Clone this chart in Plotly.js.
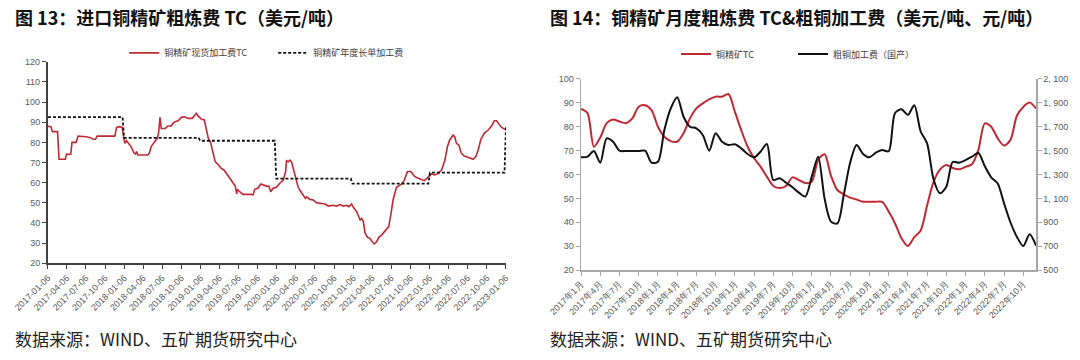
<!DOCTYPE html>
<html>
<head>
<meta charset="utf-8">
<script src="https://cdn.plot.ly/plotly-3.0.1.min.js"></script>
<style>
html,body{margin:0;padding:0;background:#fff;}
#chart{width:1080px;height:360px;}
</style>
</head>
<body>
<div id="chart"></div>
<script>
// ---------- Left chart: 进口铜精矿粗炼费 TC ----------
const spotDates = [
"2017-01-06","2017-01-20","2017-01-27","2017-02-21","2017-02-28","2017-03-30","2017-04-05","2017-04-25","2017-05-01","2017-05-21",
"2017-05-30","2017-06-27","2017-07-08","2017-07-29","2017-08-09","2017-08-21","2017-08-30","2017-11-22","2017-11-30","2017-12-16",
"2017-12-27","2018-01-04","2018-01-09","2018-01-17","2018-01-28","2018-02-07","2018-02-23","2018-03-01","2018-03-06","2018-03-12",
"2018-03-28","2018-04-29","2018-05-07","2018-05-15","2018-05-31","2018-06-13","2018-06-19","2018-06-26","2018-07-02","2018-07-21",
"2018-08-03","2018-08-19","2018-08-27","2018-09-08","2018-09-21","2018-10-06","2018-10-22","2018-11-08","2018-11-27","2018-12-06",
"2018-12-17","2018-12-25","2019-01-11","2019-01-24","2019-02-03","2019-02-12","2019-02-22","2019-02-28","2019-03-06","2019-03-17",
"2019-04-02","2019-04-15","2019-04-28","2019-05-09","2019-05-25","2019-06-10","2019-06-21","2019-06-28","2019-07-01","2019-07-12",
"2019-07-28","2019-09-06","2019-09-14","2019-09-22","2019-10-08","2019-10-21","2019-11-01","2019-11-17","2019-11-28","2019-12-08",
"2019-12-19","2020-01-04","2020-01-20","2020-02-06","2020-02-17","2020-02-21","2020-03-01","2020-03-08","2020-03-16","2020-03-24",
"2020-04-04","2020-04-17","2020-05-03","2020-05-15","2020-05-22","2020-05-28","2020-06-12","2020-06-28","2020-07-13","2020-08-07",
"2020-08-23","2020-09-08","2020-10-02","2020-10-18","2020-11-03","2020-11-19","2020-12-05","2020-12-16","2020-12-29","2021-01-06",
"2021-01-22","2021-02-07","2021-02-15","2021-02-23","2021-03-03","2021-03-15","2021-03-26","2021-04-06","2021-04-16","2021-04-27",
"2021-05-08","2021-05-21","2021-06-05","2021-06-24","2021-07-04","2021-07-15","2021-07-31","2021-08-11","2021-08-24","2021-09-06",
"2021-09-22","2021-10-08","2021-10-24","2021-11-04","2021-11-20","2021-12-01","2021-12-11","2021-12-22","2022-01-02","2022-01-15",
"2022-01-31","2022-02-16","2022-03-04","2022-03-20","2022-04-01","2022-04-12","2022-04-28","2022-05-06","2022-05-14","2022-05-25",
"2022-06-07","2022-06-20","2022-07-01","2022-07-17","2022-08-02","2022-08-15","2022-08-26","2022-09-08","2022-09-24","2022-10-13",
"2022-10-29","2022-11-11","2022-11-22","2022-12-03","2022-12-16","2023-01-04"
];
const spotTC = [
88.0,87.8,85.3,85.3,71.6,71.6,74.2,74.0,80.0,80.0,
83.1,83.1,82.8,82.3,81.5,81.5,83.1,83.1,87.4,87.8,
87.4,82.0,79.5,80.8,79.5,77.9,74.5,74.2,75.4,73.7,
73.7,73.7,74.9,77.9,80.3,82.0,84.5,92.4,86.9,86.9,
88.1,88.1,89.4,90.4,90.7,92.4,92.7,91.9,91.9,93.1,
94.4,93.1,91.4,91.1,85.3,82.0,80.3,77.9,74.5,70.4,
68.8,67.1,66.3,64.6,62.1,60.0,58.3,54.4,56.7,55.5,
54.2,54.2,53.9,56.7,57.2,59.3,58.8,58.3,58.3,55.5,
57.2,57.7,59.7,61.3,65.5,70.9,70.4,71.2,70.4,67.1,
63.0,57.7,55.0,53.4,52.2,53.0,51.7,51.4,50.1,49.7,
49.4,48.4,48.8,48.4,49.1,48.4,48.8,48.1,49.4,47.8,
45.6,41.5,42.3,40.6,34.9,32.9,32.4,30.7,29.6,30.7,
32.9,34.0,35.7,38.2,44.0,51.4,57.7,58.3,59.3,61.0,
65.5,65.5,63.3,62.6,62.0,61.3,61.0,62.0,63.3,64.3,
63.8,64.6,66.3,71.2,77.9,81.2,83.6,82.8,79.5,78.7,
74.5,73.2,72.9,72.1,71.6,72.9,76.2,81.5,84.5,86.1,
88.1,90.7,90.7,89.1,87.4,86.3
];
const contractDates = ["2017-01-06","2017-12-29","2018-01-05","2018-12-28","2019-01-04","2019-12-27","2020-01-03","2020-12-25","2021-01-01","2021-12-31","2022-01-07","2022-12-30","2023-01-06"];
const contractTC = [92.5,92.5,82.25,82.25,80.8,80.8,62,62,59.5,59.5,65,65,88];
const leftTicks = ["2017-01-06","2017-04-06","2017-07-06","2017-10-06","2018-01-06","2018-04-06","2018-07-06","2018-10-06","2019-01-06","2019-04-06","2019-07-06","2019-10-06","2020-01-06","2020-04-06","2020-07-06","2020-10-06","2021-01-06","2021-04-06","2021-07-06","2021-10-06","2022-01-06","2022-04-06","2022-07-06","2022-10-06","2023-01-06"];

// ---------- Right chart: 铜精矿月度粗炼费 TC & 粗铜加工费 ----------
const months = [
"2017年1月","2017年2月","2017年3月","2017年4月","2017年5月","2017年6月","2017年7月","2017年8月","2017年9月","2017年10月","2017年11月","2017年12月",
"2018年1月","2018年2月","2018年3月","2018年4月","2018年5月","2018年6月","2018年7月","2018年8月","2018年9月","2018年10月","2018年11月","2018年12月",
"2019年1月","2019年2月","2019年3月","2019年4月","2019年5月","2019年6月","2019年7月","2019年8月","2019年9月","2019年10月","2019年11月","2019年12月",
"2020年1月","2020年2月","2020年3月","2020年4月","2020年5月","2020年6月","2020年7月","2020年8月","2020年9月","2020年10月","2020年11月","2020年12月",
"2021年1月","2021年2月","2021年3月","2021年4月","2021年5月","2021年6月","2021年7月","2021年8月","2021年9月","2021年10月","2021年11月","2021年12月",
"2022年1月","2022年2月","2022年3月","2022年4月","2022年5月","2022年6月","2022年7月","2022年8月","2022年9月","2022年10月","2022年11月","2022年12月"
];
const monthlyTC = [
87.5,85.8,71.6,75.5,81.5,83.0,82.2,81.5,83.5,88.4,89.0,87.0,
80.0,75.8,74.0,73.7,77.3,83.5,87.7,89.8,91.5,92.6,92.6,93.7,
86.3,78.6,71.6,66.8,63.3,59.1,55.2,54.3,55.2,58.8,57.7,56.4,
57.0,66.1,68.5,59.5,53.5,51.7,50.3,49.5,48.6,48.6,48.6,48.5,
44.5,39.5,33.3,30.0,33.8,36.5,47.0,56.8,62.0,64.0,62.7,62.2,
63.2,64.3,70.3,81.4,80.0,75.2,72.1,74.5,84.5,88.3,90.1,87.7
];
const blisterFee = [
1444,1449,1497,1399,1603,1575,1499,1497,1497,1497,1499,1399,
1407,1673,1854,1947,1784,1700,1687,1631,1499,1645,1575,1547,
1553,1519,1472,1444,1491,1555,1254,1268,1231,1193,1148,1115,
1282,1449,1100,905,890,1130,1400,1547,1472,1444,1483,1505,
1495,1815,1846,1800,1880,1660,1560,1260,1142,1198,1405,1399,
1421,1449,1480,1370,1276,1226,1060,900,779,701,800,704
];
const monthTicks = ["2017年1月","2017年4月","2017年7月","2017年10月","2018年1月","2018年4月","2018年7月","2018年10月","2019年1月","2019年4月","2019年7月","2019年10月","2020年1月","2020年4月","2020年7月","2020年10月","2021年1月","2021年4月","2021年7月","2021年10月","2022年1月","2022年4月","2022年7月","2022年10月"];
const rightAxisVals = [500,700,900,1100,1300,1500,1700,1900,2100];
const rightAxisText = ["500","700","900","1, 100","1, 300","1, 500","1, 700","1, 900","2, 100"];

const RED = "#BE2A33";
const TICKFONT = {family:"Liberation Sans, Arial, sans-serif", size:9, color:"#595959"};
const CJK = "Noto Sans CJK SC, sans-serif";

const traces = [
  {x:spotDates, y:spotTC, type:"scatter", mode:"lines", name:"铜精矿现货加工费TC",
   line:{color:RED, width:1.6}, xaxis:"x", yaxis:"y", legend:"legend"},
  {x:contractDates, y:contractTC, type:"scatter", mode:"lines", name:"铜精矿年度长单加工费",
   line:{color:"#111", width:1.8, dash:"3px,2px"}, xaxis:"x", yaxis:"y", legend:"legend"},
  {x:months, y:monthlyTC, type:"scatter", mode:"lines", name:"铜精矿TC",
   line:{color:RED, width:2, shape:"spline", smoothing:0.8}, xaxis:"x2", yaxis:"y2", legend:"legend2"},
  {x:months, y:blisterFee, type:"scatter", mode:"lines", name:"粗铜加工费（国产）",
   line:{color:"#111", width:2, shape:"spline", smoothing:0.8}, xaxis:"x2", yaxis:"y3", legend:"legend2"}
];

const layout = {
  width:1080, height:360,
  margin:{l:0,r:0,t:0,b:0},
  paper_bgcolor:"#fff", plot_bgcolor:"#fff",
  showlegend:true,
  legend:{orientation:"h", x:0.115, y:0.853, xanchor:"left", yanchor:"middle",
          font:{family:CJK, size:9, color:"#404040"}, entrywidth:104, entrywidthmode:"pixels",
          bgcolor:"rgba(0,0,0,0)", itemwidth:30},
  legend2:{orientation:"h", x:0.626, y:0.85, xanchor:"left", yanchor:"middle",
          font:{family:CJK, size:9, color:"#404040"}, entrywidth:72, entrywidthmode:"pixels",
          bgcolor:"rgba(0,0,0,0)", itemwidth:30},
  xaxis:{type:"date", domain:[0.0444,0.4685], anchor:"y",
         range:["2017-01-06","2023-01-06"], tickvals:leftTicks, ticktext:leftTicks,
         tickangle:-45, tickfont:TICKFONT, showgrid:false, zeroline:false,
         showline:true, linecolor:"#404040", linewidth:2, ticks:"outside", ticklen:4, tickcolor:"#404040", tickwidth:1},
  yaxis:{domain:[0.2686,0.8286], anchor:"x", range:[20,120], dtick:10, tick0:20,
         tickfont:TICKFONT, showgrid:false, zeroline:false,
         showline:true, linecolor:"#404040", linewidth:2, ticks:"outside", ticklen:4, tickcolor:"#404040"},
  xaxis2:{type:"category", domain:[0.538,0.9593], anchor:"y2", range:[0,71],
          tickvals:monthTicks, ticktext:monthTicks, tickangle:-45, tickfont:TICKFONT,
          showgrid:false, zeroline:false, showline:true, linecolor:"#a6a6a6", linewidth:1.5,
          ticks:"outside", ticklen:4, tickcolor:"#a6a6a6"},
  yaxis2:{domain:[0.25,0.7806], anchor:"x2", range:[20,100], dtick:10, tick0:20,
          tickfont:TICKFONT, showgrid:false, zeroline:false, showline:true,
          linecolor:"#a6a6a6", linewidth:1.5, ticks:"outside", ticklen:4, tickcolor:"#a6a6a6"},
  yaxis3:{overlaying:"y2", side:"right", anchor:"x2", range:[500,2100],
          tickvals:rightAxisVals, ticktext:rightAxisText, tickfont:TICKFONT,
          showgrid:false, zeroline:false, showline:true, linecolor:"#a6a6a6", linewidth:1.5,
          ticks:"outside", ticklen:4, tickcolor:"#a6a6a6"},
  annotations:[
    {text:"图 13：进口铜精矿粗炼费 TC（美元/吨）", xref:"paper", yref:"paper", x:13/1080, y:1-17/360,
     xanchor:"left", yanchor:"middle", showarrow:false, font:{family:CJK, size:18, color:"#111", weight:"bold"}},
    {text:"图 14：铜精矿月度粗炼费 TC&粗铜加工费（美元/吨、元/吨）", xref:"paper", yref:"paper", x:548/1080, y:1-17/360,
     xanchor:"left", yanchor:"middle", showarrow:false, font:{family:CJK, size:18, color:"#111", weight:"bold"}},
    {text:"数据来源：WIND、五矿期货研究中心", xref:"paper", yref:"paper", x:13/1080, y:1-338/360,
     xanchor:"left", yanchor:"middle", showarrow:false, font:{family:CJK, size:17, color:"#222"}},
    {text:"数据来源：WIND、五矿期货研究中心", xref:"paper", yref:"paper", x:548/1080, y:1-338/360,
     xanchor:"left", yanchor:"middle", showarrow:false, font:{family:CJK, size:17, color:"#222"}}
  ]
};

Plotly.newPlot("chart", traces, layout, {staticPlot:true, displayModeBar:false});
</script>
</body>
</html>
